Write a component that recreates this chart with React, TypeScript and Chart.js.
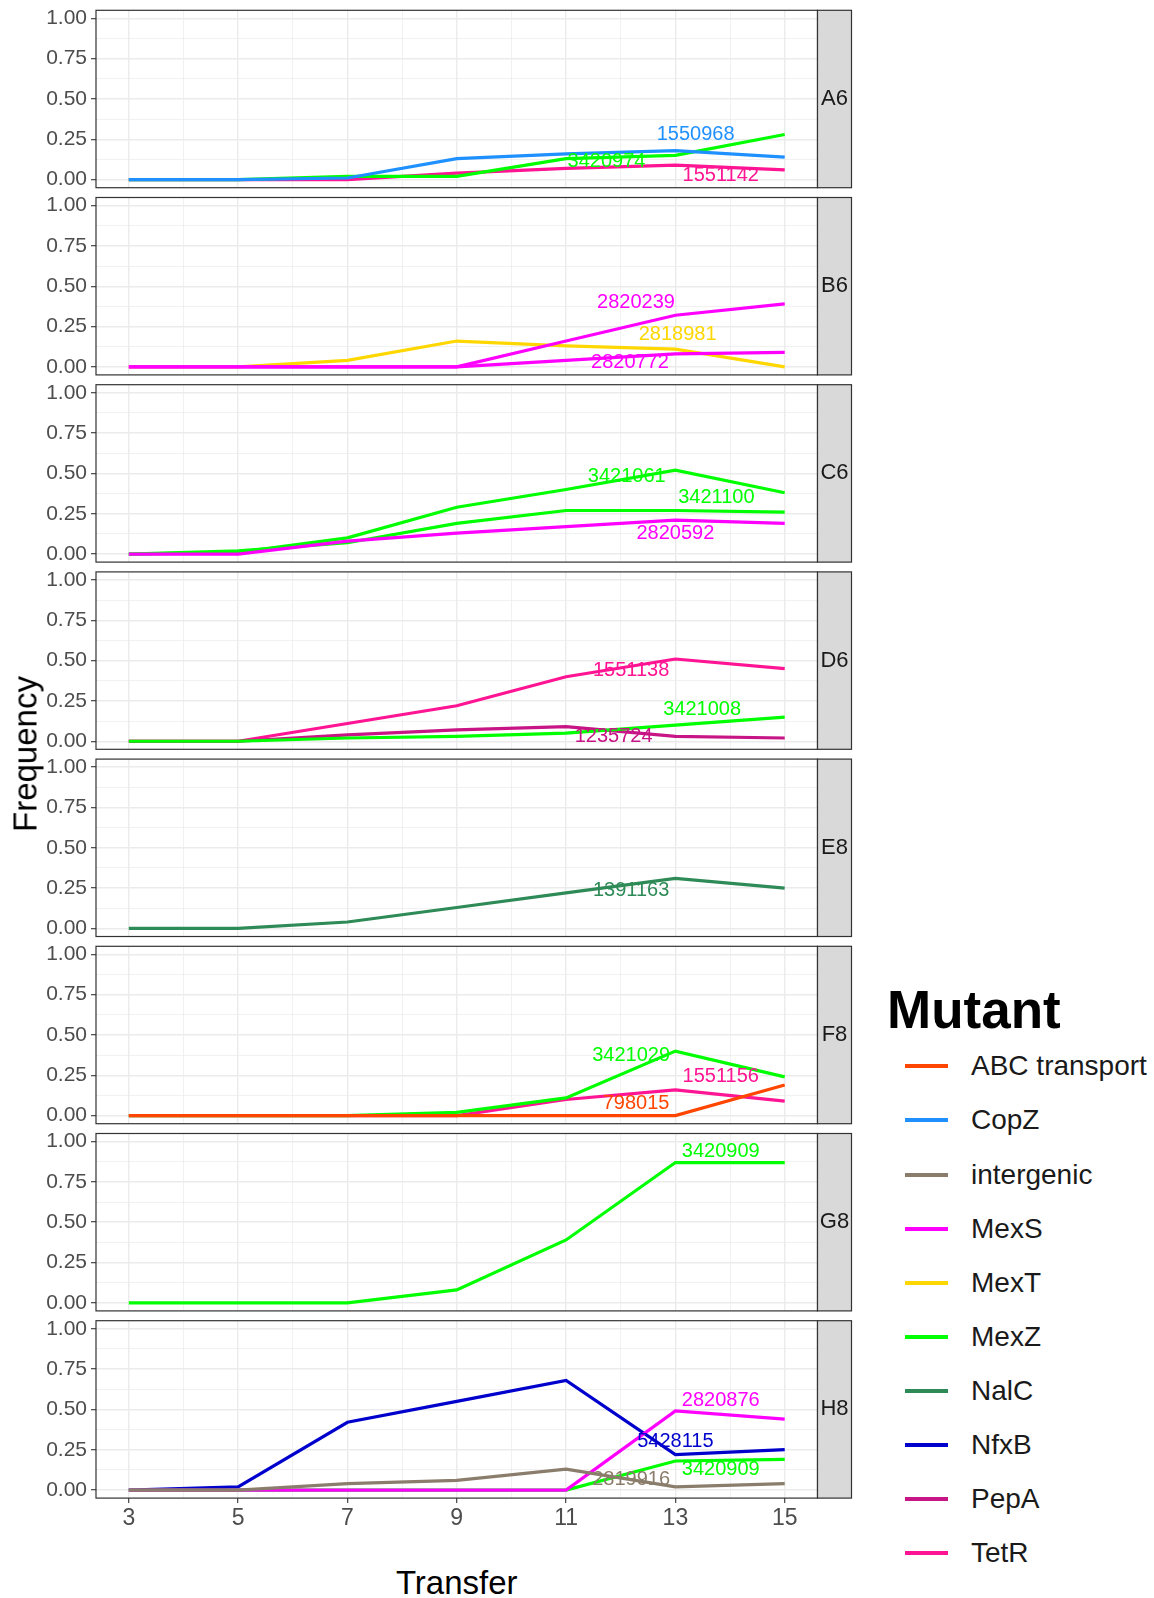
import { useEffect, useRef } from "react";
import { Chart, registerables } from "chart.js";

Chart.register(...registerables);

// ---------- data ----------
const transfers = [3, 5, 7, 9, 11, 13, 15];
const transferGrid = [3, 4, 5, 6, 7, 8, 9, 10, 11, 12, 13, 14, 15];
const frequencyGrid = [0, 0.125, 0.25, 0.375, 0.5, 0.625, 0.75, 0.875, 1];

const mutants = [
  "ABC transport",
  "CopZ",
  "intergenic",
  "MexS",
  "MexT",
  "MexZ",
  "NalC",
  "NfxB",
  "PepA",
  "TetR",
];
const mutantColors = [
  "#FF4500",
  "#1E90FF",
  "#8B7D6B",
  "#FF00FF",
  "#FFD700",
  "#00FF00",
  "#2E8B57",
  "#0000CD",
  "#C71585",
  "#FF1493",
];

const populations = ["A6", "B6", "C6", "D6", "E8", "F8", "G8", "H8"];

// A6
const a6CopZ1550968 = [0, 0, 0.01, 0.13, 0.16, 0.18, 0.14];
const a6MexZ3420974 = [0, 0, 0.02, 0.02, 0.13, 0.15, 0.28];
const a6TetR1551142 = [0, 0, 0, 0.04, 0.07, 0.09, 0.06];
// B6
const b6MexT2818981 = [0, 0, 0.04, 0.16, 0.13, 0.11, 0];
const b6MexS2820239 = [0, 0, 0, 0, 0.16, 0.32, 0.39];
const b6MexS2820772 = [0, 0, 0, 0, 0.04, 0.08, 0.09];
// C6
const c6MexS2820592 = [0, 0, 0.08, 0.13, 0.17, 0.21, 0.19];
const c6MexZ3421061 = [0, 0.01, 0.1, 0.29, 0.4, 0.52, 0.38];
const c6MexZ3421100 = [0, 0.02, 0.07, 0.19, 0.27, 0.27, 0.26];
// D6
const d6PepA1235724 = [0, 0, 0.04, 0.07, 0.09, 0.03, 0.02];
const d6MexZ3421008 = [0, 0, 0.02, 0.03, 0.05, 0.1, 0.15];
const d6TetR1551138 = [0, 0, 0.11, 0.22, 0.4, 0.51, 0.45];
// E8
const e8NalC1391163 = [0, 0, 0.04, 0.13, 0.22, 0.31, 0.25];
// F8
const f8Abc798015 = [0, 0, 0, 0, 0, 0, 0.19];
const f8TetR1551156 = [0, 0, 0, 0, 0.1, 0.16, 0.09];
const f8MexZ3421029 = [0, 0, 0, 0.02, 0.11, 0.4, 0.24];
// G8
const g8MexZ3420909 = [0, 0, 0, 0.08, 0.39, 0.87, 0.87];
// H8
const h8Intergenic2819916 = [0, 0, 0.04, 0.06, 0.13, 0.02, 0.04];
const h8MexS2820876 = [0, 0, 0, 0, 0, 0.49, 0.44];
const h8MexZ3420909 = [0, 0, 0, 0, 0, 0.18, 0.19];
const h8NfxB5428115 = [0, 0.02, 0.42, 0.55, 0.68, 0.22, 0.25];

type Track = {
  population: string;
  mutant: string;
  site: string;
  values: number[];
  labelAt: [number, number]; // label anchor in (transfer, frequency)
};

const tracks: Track[] = [
  { population: "A6", mutant: "CopZ", site: "1550968", values: a6CopZ1550968, labelAt: [13.37, 0.28] },
  { population: "A6", mutant: "MexZ", site: "3420974", values: a6MexZ3420974, labelAt: [11.74, 0.114] },
  { population: "A6", mutant: "TetR", site: "1551142", values: a6TetR1551142, labelAt: [13.83, 0.027] },
  { population: "B6", mutant: "MexS", site: "2820239", values: b6MexS2820239, labelAt: [12.28, 0.4] },
  { population: "B6", mutant: "MexS", site: "2820772", values: b6MexS2820772, labelAt: [12.17, 0.03] },
  { population: "B6", mutant: "MexT", site: "2818981", values: b6MexT2818981, labelAt: [13.04, 0.2] },
  { population: "C6", mutant: "MexS", site: "2820592", values: c6MexS2820592, labelAt: [13.0, 0.13] },
  { population: "C6", mutant: "MexZ", site: "3421061", values: c6MexZ3421061, labelAt: [12.11, 0.48] },
  { population: "C6", mutant: "MexZ", site: "3421100", values: c6MexZ3421100, labelAt: [13.75, 0.35] },
  { population: "D6", mutant: "MexZ", site: "3421008", values: d6MexZ3421008, labelAt: [13.49, 0.195] },
  { population: "D6", mutant: "PepA", site: "1235724", values: d6PepA1235724, labelAt: [11.87, 0.03] },
  { population: "D6", mutant: "TetR", site: "1551138", values: d6TetR1551138, labelAt: [12.19, 0.44] },
  { population: "E8", mutant: "NalC", site: "1391163", values: e8NalC1391163, labelAt: [12.19, 0.237] },
  { population: "F8", mutant: "ABC transport", site: "798015", values: f8Abc798015, labelAt: [12.28, 0.077] },
  { population: "F8", mutant: "MexZ", site: "3421029", values: f8MexZ3421029, labelAt: [12.19, 0.374] },
  { population: "F8", mutant: "TetR", site: "1551156", values: f8TetR1551156, labelAt: [13.83, 0.24] },
  { population: "G8", mutant: "MexZ", site: "3420909", values: g8MexZ3420909, labelAt: [13.83, 0.94] },
  { population: "H8", mutant: "intergenic", site: "2819916", values: h8Intergenic2819916, labelAt: [12.19, 0.066] },
  { population: "H8", mutant: "MexS", site: "2820876", values: h8MexS2820876, labelAt: [13.83, 0.554] },
  { population: "H8", mutant: "MexZ", site: "3420909", values: h8MexZ3420909, labelAt: [13.83, 0.129] },
  { population: "H8", mutant: "NfxB", site: "5428115", values: h8NfxB5428115, labelAt: [13.0, 0.3] },
];

// ---------- layout ----------
const FONT = '"Liberation Sans", Arial, Helvetica, sans-serif';
const CANVAS_W = 860;
const PANEL_LEFT = 96;
const PANEL_RIGHT = 817.5;
const STRIP_W = 34;
const PANEL_TOP = 10.3;
const PANEL_STEP = 187.2;
const PANEL_H = 177.4;
const PAD = 20;
const X_AXIS_H = 44;

const colorOf = (m: string) => mutantColors[mutants.indexOf(m)];
const isMajorX = (v: number) => Math.round(v) % 2 === 1;
const isMajorY = (v: number) => Math.abs(v * 4 - Math.round(v * 4)) < 1e-6;

function Panel({ index }: { index: number }) {
  const ref = useRef<HTMLCanvasElement>(null);
  const population = populations[index];
  const isBottom = index === populations.length - 1;
  const panelTop = PANEL_TOP + PANEL_STEP * index;
  const canvasTop = Math.floor(panelTop - PAD);
  const padTop = panelTop - canvasTop;
  const canvasH = Math.ceil(padTop + PANEL_H + PAD + (isBottom ? X_AXIS_H : 0));
  const padBottom = canvasH - padTop - PANEL_H - (isBottom ? X_AXIS_H : 0);

  useEffect(() => {
    const own = tracks.filter((t) => t.population === population);
    const labelPlugin = {
      id: "siteLabels",
      afterDatasetsDraw(chart: any) {
        const { ctx, scales } = chart;
        ctx.save();
        ctx.font = `20px ${FONT}`;
        ctx.textAlign = "center";
        ctx.textBaseline = "middle";
        own.forEach((t) => {
          ctx.fillStyle = colorOf(t.mutant);
          ctx.fillText(
            t.site,
            scales.x.getPixelForValue(t.labelAt[0]),
            scales.y.getPixelForValue(t.labelAt[1])
          );
        });
        ctx.restore();
      },
    };
    const framePlugin = {
      id: "panelFrame",
      afterDraw(chart: any) {
        const { ctx, chartArea: a } = chart;
        ctx.save();
        ctx.strokeStyle = "#333333";
        ctx.lineWidth = 1.2;
        ctx.strokeRect(a.left, a.top, a.right - a.left, a.bottom - a.top);
        ctx.fillStyle = "#D9D9D9";
        ctx.fillRect(a.right, a.top, STRIP_W, a.bottom - a.top);
        ctx.strokeRect(a.right, a.top, STRIP_W, a.bottom - a.top);
        ctx.fillStyle = "#1A1A1A";
        ctx.font = `22px ${FONT}`;
        ctx.textAlign = "center";
        ctx.textBaseline = "middle";
        ctx.fillText(population, a.right + STRIP_W / 2, (a.top + a.bottom) / 2);
        ctx.restore();
      },
    };

    const chart = new Chart(ref.current as HTMLCanvasElement, {
      type: "line",
      data: {
        datasets: own.map((t) => ({
          label: `${t.mutant} ${t.site}`,
          data: transfers.map((x, i) => ({ x, y: t.values[i] })),
          borderColor: colorOf(t.mutant),
          backgroundColor: colorOf(t.mutant),
          borderWidth: 3.2,
          pointRadius: 0,
          tension: 0,
          fill: false,
        })),
      },
      options: {
        responsive: false,
        animation: false,
        devicePixelRatio: 1,
        events: [],
        layout: {
          padding: { left: 0, right: CANVAS_W - PANEL_RIGHT, top: padTop, bottom: padBottom },
        },
        plugins: { legend: { display: false }, tooltip: { enabled: false } },
        scales: {
          x: {
            type: "linear",
            min: 2.4,
            max: 15.6,
            afterBuildTicks: (s: any) => {
              s.ticks = transferGrid.map((v) => ({ value: v }));
            },
            afterFit: (s: any) => {
              s.height = isBottom ? X_AXIS_H : 0;
            },
            border: { display: false },
            grid: {
              color: "#EBEBEB",
              lineWidth: (c: any) => (c.tick && isMajorX(c.tick.value) ? 1.4 : 0.7),
              drawTicks: isBottom,
              tickLength: 5,
              tickWidth: 1.1,
              tickColor: (c: any) => (c.tick && isMajorX(c.tick.value) ? "#333333" : "rgba(0,0,0,0)"),
            },
            ticks: {
              display: isBottom,
              autoSkip: false,
              maxRotation: 0,
              padding: 2,
              color: "#4D4D4D",
              font: { family: FONT, size: 23 },
              callback: (v: any) => (isMajorX(Number(v)) ? String(v) : ""),
            },
          },
          y: {
            type: "linear",
            min: -0.05,
            max: 1.05,
            afterBuildTicks: (s: any) => {
              s.ticks = frequencyGrid.map((v) => ({ value: v }));
            },
            afterFit: (s: any) => {
              s.width = PANEL_LEFT;
            },
            border: { display: false },
            grid: {
              color: "#EBEBEB",
              lineWidth: (c: any) => (c.tick && isMajorY(c.tick.value) ? 1.4 : 0.7),
              drawTicks: true,
              tickLength: 5,
              tickWidth: 1.1,
              tickColor: (c: any) => (c.tick && isMajorY(c.tick.value) ? "#333333" : "rgba(0,0,0,0)"),
            },
            ticks: {
              autoSkip: false,
              padding: 4,
              color: "#4D4D4D",
              font: { family: FONT, size: 21 },
              callback: (v: any) => (isMajorY(Number(v)) ? Number(v).toFixed(2) : ""),
            },
          },
        },
      },
      plugins: [labelPlugin, framePlugin],
    } as any);
    return () => chart.destroy();
  }, [population, isBottom, padTop, padBottom]);

  return (
    <canvas
      ref={ref}
      width={CANVAS_W}
      height={canvasH}
      style={{ position: "absolute", left: 0, top: canvasTop, width: CANVAS_W, height: canvasH }}
    />
  );
}

const LEGEND_TITLE_Y = 1009;
const LEGEND_FIRST_Y = 1066.3;
const LEGEND_STEP = 54.1;

export default function App() {
  return (
    <div
      style={{
        position: "absolute",
        left: 0,
        top: 0,
        width: 1154,
        height: 1598,
        background: "#FFFFFF",
        fontFamily: FONT,
        overflow: "hidden",
      }}
    >
      {populations.map((p, i) => (
        <Panel key={p} index={i} />
      ))}

      <div
        style={{
          position: "absolute",
          left: 25,
          top: 754,
          transform: "translate(-50%, -50%) rotate(-90deg)",
          fontSize: 33,
          lineHeight: "33px",
          color: "#000",
          whiteSpace: "nowrap",
        }}
      >
        Frequency
      </div>
      <div
        style={{
          position: "absolute",
          left: (PANEL_LEFT + PANEL_RIGHT) / 2,
          top: 1582,
          transform: "translate(-50%, -50%)",
          fontSize: 33,
          lineHeight: "33px",
          color: "#000",
          whiteSpace: "nowrap",
        }}
      >
        Transfer
      </div>

      <div
        style={{
          position: "absolute",
          left: 887,
          top: LEGEND_TITLE_Y,
          transform: "translateY(-50%)",
          fontSize: 53,
          lineHeight: "53px",
          fontWeight: 700,
          color: "#000",
          whiteSpace: "nowrap",
        }}
      >
        Mutant
      </div>
      {mutants.map((m, i) => {
        const y = LEGEND_FIRST_Y + LEGEND_STEP * i;
        return (
          <div key={m}>
            <div
              style={{
                position: "absolute",
                left: 905,
                top: y - 2,
                width: 43,
                height: 4,
                background: mutantColors[i],
              }}
            />
            <div
              style={{
                position: "absolute",
                left: 971,
                top: y,
                transform: "translateY(-50%)",
                fontSize: 28,
                lineHeight: "28px",
                color: "#1A1A1A",
                whiteSpace: "nowrap",
              }}
            >
              {m}
            </div>
          </div>
        );
      })}
    </div>
  );
}
